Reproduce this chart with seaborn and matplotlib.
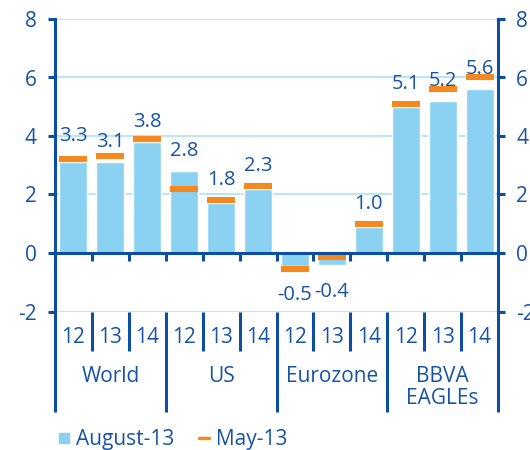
import numpy as np
import pandas as pd
import matplotlib
matplotlib.use("Agg")
import matplotlib.pyplot as plt
from matplotlib.lines import Line2D
import seaborn as sns

# GDP growth forecasts (%), by region and year
regions = ["World", "US", "Eurozone", "BBVA\nEAGLEs"]
years = ["12", "13", "14"]
august_13 = [3.1, 3.1, 3.8, 2.8, 1.7, 2.2, -0.45, -0.4, 0.9, 5.0, 5.2, 5.6]
may_13 = [3.2, 3.3, 3.9, 2.2, 1.8, 2.3, -0.55, -0.15, 1.0, 5.1, 5.6, 6.0]
value_labels = [3.3, 3.1, 3.8, 2.8, 1.8, 2.3, -0.5, -0.4, 1.0, 5.1, 5.2, 5.6]
y_ticks = [-2, 0, 2, 4, 6, 8]

BAR_BLUE = "#8AD1F2"
ORANGE = "#F5891F"
AXIS_BLUE = "#0E4EA2"
TEXT_BLUE = "#1753A6"
GRID_BLUE = "#BCE5F7"

sns.set_theme(style="white")
plt.rcParams["font.family"] = ["Open Sans", "DejaVu Sans"]
plt.rcParams["axes.unicode_minus"] = False

AXIS_FS = 15
VALUE_FS = 14.5

slots = [f"{r.replace(chr(10), ' ')} {y}" for r in regions for y in years]
df = pd.DataFrame({"slot": slots, "august": august_13, "may": may_13})

W, H = 530, 450
fig = plt.figure(figsize=(W / 100, H / 100), dpi=100)
ax = fig.add_axes([55 / W, 1 - 311.5 / H, 443 / W, 292.5 / H])

bar_w = 0.76
sns.barplot(data=df, x="slot", y="august", order=slots, color=BAR_BLUE,
            saturation=1, width=bar_w, ax=ax, zorder=2)

# May-13 forecasts as short horizontal markers across each bar
xs = np.arange(len(slots))
ax.hlines(df["may"], xs - bar_w / 2, xs + bar_w / 2, color=ORANGE, lw=4.4,
          zorder=3, capstyle="butt")

ax.set_xlim(-0.5, len(slots) - 0.5)
ax.set_ylim(y_ticks[0], y_ticks[-1])
ax.set_yticks(y_ticks)
ax.set_yticklabels([str(t) for t in y_ticks])
ax.set_xticks([])
ax.set_xlabel("")
ax.set_ylabel("")
ax.yaxis.grid(True, color=GRID_BLUE, lw=1.5)
ax.set_axisbelow(True)
ax.tick_params(axis="y", left=True, right=True, labelleft=True, labelright=True,
               direction="out", length=5, width=2.2, color=AXIS_BLUE,
               labelcolor=TEXT_BLUE, labelsize=AXIS_FS, pad=8)

for side in ("top", "bottom"):
    ax.spines[side].set_visible(False)
for side in ("left", "right"):
    ax.spines[side].set_color(AXIS_BLUE)
    ax.spines[side].set_linewidth(2.2)

# zero line with small slot ticks
ax.axhline(0, color=AXIS_BLUE, lw=2.2, zorder=4)
ax.vlines(np.arange(0.5, len(slots) - 1), -0.27, 0, color=AXIS_BLUE, lw=2.2, zorder=4)

# value labels
for x, v in zip(xs, value_labels):
    if v >= 0:
        ax.text(x, v + 0.52, f"{v:.1f}", ha="center", va="baseline",
                fontsize=VALUE_FS, color=TEXT_BLUE, zorder=5)
    else:
        ax.text(x, v - 1.1, f"{v:.1f}", ha="center", va="baseline",
                fontsize=VALUE_FS, color=TEXT_BLUE, zorder=5)

# two-level category axis below the plot
trans = ax.get_xaxis_transform()
ax_h = 292.5
year_bottom = -(351 - 311.5) / ax_h
group_bottom = -(411.5 - 311.5) / ax_h
n_years = len(years)
for i in range(len(slots) + 1):
    pos = i - 0.5
    bottom = group_bottom if i % n_years == 0 else year_bottom
    ax.plot([pos, pos], [bottom, 0], transform=trans, color=AXIS_BLUE,
            lw=2.2, clip_on=False, solid_capstyle="butt")

for i, s in enumerate(slots):
    ax.text(i, -(337.5 - 311.5) / ax_h, years[i % n_years], transform=trans,
            ha="center", va="center", fontsize=AXIS_FS, color=TEXT_BLUE)

for g, name in enumerate(regions):
    ax.text(g * n_years + 1, -(366 - 311.5) / ax_h, name, transform=trans,
            ha="center", va="top", fontsize=AXIS_FS, color=TEXT_BLUE, linespacing=1.05)

handles = [
    Line2D([], [], marker="s", ls="none", color=BAR_BLUE, markersize=7.5),
    Line2D([], [], color=ORANGE, lw=2.5),
]
fig.legend(handles, ["August-13", "May-13"], loc="center left",
           bbox_to_anchor=(59 / W, 1 - 440 / H), ncol=2, frameon=False,
           fontsize=AXIS_FS, labelcolor=TEXT_BLUE, handlelength=0.5,
           handletextpad=0.3, columnspacing=1.2, borderpad=0, borderaxespad=0)

fig.savefig("out.png", dpi=100)
